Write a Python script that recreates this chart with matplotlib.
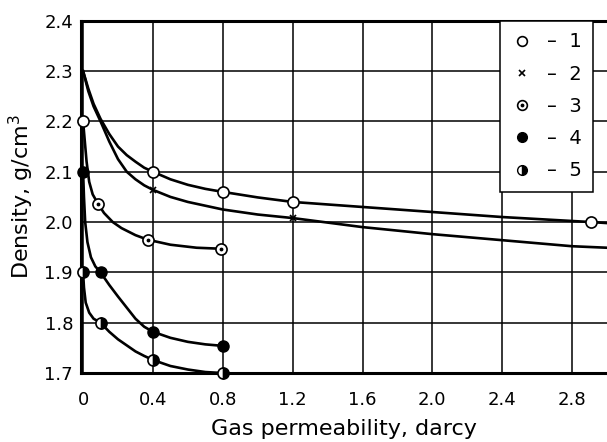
import numpy as np
import matplotlib
matplotlib.use("Agg")
import matplotlib.pyplot as plt
from matplotlib.lines import Line2D
from matplotlib.legend_handler import HandlerTuple

plt.rcParams['font.family'] = ['Liberation Sans Narrow', 'DejaVu Sans Condensed', 'DejaVu Sans']

# 沿曲线读取的点 (x: 气体渗透率 darcy, y: 密度 g/cm3)
c1_x = [0.0, 0.03, 0.06, 0.1, 0.15, 0.2, 0.25, 0.3, 0.35, 0.4, 0.5, 0.6, 0.7, 0.8,
        1.0, 1.2, 1.6, 2.0, 2.4, 2.91, 3.0]
c1_y = [2.30, 2.265, 2.235, 2.205, 2.175, 2.15, 2.133, 2.12, 2.108, 2.10, 2.085, 2.074,
        2.066, 2.06, 2.049, 2.04, 2.03, 2.02, 2.01, 2.00, 1.998]
# 数据点 (标记)
m1_x = [0.4, 0.8, 1.2, 2.91]
m1_y = [2.10, 2.06, 2.04, 2.00]

c2_x = [0.0, 0.03, 0.06, 0.1, 0.15, 0.2, 0.25, 0.3, 0.35, 0.4, 0.5, 0.6, 0.8, 1.0,
        1.2, 1.6, 2.0, 2.4, 2.8, 3.0]
c2_y = [2.30, 2.26, 2.23, 2.20, 2.16, 2.125, 2.10, 2.085, 2.073, 2.064, 2.05, 2.04,
        2.025, 2.015, 2.008, 1.99, 1.976, 1.964, 1.952, 1.949]
m2_x = [0.4, 1.2]
m2_y = [2.064, 2.008]

c3_x = [0.0, 0.01, 0.02, 0.035, 0.055, 0.086, 0.12, 0.17, 0.22, 0.3, 0.37, 0.5, 0.65, 0.79]
c3_y = [2.20, 2.16, 2.12, 2.08, 2.055, 2.036, 2.018, 2.00, 1.988, 1.974, 1.965, 1.955,
        1.949, 1.947]
m3_x = [0.086, 0.37, 0.79]
m3_y = [2.036, 1.965, 1.947]

c4_x = [0.0, 0.005, 0.012, 0.025, 0.045, 0.07, 0.1, 0.15, 0.2, 0.25, 0.3, 0.35, 0.4,
        0.5, 0.6, 0.7, 0.8]
c4_y = [2.10, 2.05, 2.00, 1.96, 1.93, 1.912, 1.90, 1.875, 1.852, 1.83, 1.808, 1.792,
        1.782, 1.77, 1.762, 1.757, 1.754]
m4_x = [0.0, 0.1, 0.4, 0.8]
m4_y = [2.10, 1.90, 1.782, 1.754]

c5_x = [0.0, 0.005, 0.015, 0.035, 0.06, 0.1, 0.15, 0.2, 0.25, 0.3, 0.35, 0.4, 0.5,
        0.6, 0.7, 0.8]
c5_y = [1.90, 1.87, 1.84, 1.82, 1.808, 1.80, 1.782, 1.767, 1.755, 1.743, 1.734, 1.726,
        1.714, 1.707, 1.702, 1.70]
m5_x = [0.0, 0.1, 0.4, 0.8]
m5_y = [1.90, 1.80, 1.726, 1.70]

# 单独的空心圆 (0, 2.2)
extra_x = [0.0]
extra_y = [2.2]

legend_labels = ['–  1', '–  2', '–  3', '–  4', '–  5']

fig = plt.figure(figsize=(6.07, 4.42), dpi=100)
ax = fig.add_axes([0.134, 0.156, 0.866, 0.797])

lw = 1.9
ms = 8
open_kw = dict(ls='none', marker='o', ms=ms, mfc='white', mec='k', mew=1.2, zorder=4,
               clip_on=False)

ax.plot(c1_x, c1_y, 'k-', lw=lw, zorder=3)
ax.plot(m1_x, m1_y, **open_kw)

ax.plot(c2_x, c2_y, 'k-', lw=lw, zorder=3)
ax.plot(m2_x, m2_y, 'kx', ms=4.5, mew=1.2, zorder=4)

ax.plot(c3_x, c3_y, 'k-', lw=lw, zorder=3)
ax.plot(m3_x, m3_y, **open_kw)
ax.plot(m3_x, m3_y, 'k.', ms=3.5, zorder=5)

ax.plot(c4_x, c4_y, 'k-', lw=lw, zorder=3)
ax.plot(m4_x, m4_y, 'ko', ms=ms, zorder=4, clip_on=False)

ax.plot(c5_x, c5_y, 'k-', lw=lw, zorder=3)
ax.plot(m5_x, m5_y, ls='none', marker='o', ms=ms, mfc='k', mfcalt='white', mec='k',
        mew=1.2, fillstyle='right', zorder=4, clip_on=False)

ax.plot(extra_x, extra_y, **open_kw)

ax.set_xlim(-0.01, 3.0)
ax.set_ylim(1.7, 2.4)
ax.set_xticks([0, 0.4, 0.8, 1.2, 1.6, 2.0, 2.4, 2.8])
ax.set_xticklabels(['0', '0.4', '0.8', '1.2', '1.6', '2.0', '2.4', '2.8'])
ax.set_yticks([1.7, 1.8, 1.9, 2.0, 2.1, 2.2, 2.3, 2.4])
ax.tick_params(length=0, labelsize=13)
ax.tick_params(axis='x', pad=13)
ax.tick_params(axis='y', pad=6)
ax.grid(True, color='k', lw=1.1)
ax.set_axisbelow(True)
for s in ['left', 'bottom', 'top']:
    ax.spines[s].set_linewidth(2.2)
ax.spines['right'].set_visible(False)

ax.set_xlabel('Gas permeability, darcy', fontsize=16, labelpad=7)
ax.set_ylabel('Density, g/cm$^3$', fontsize=16, labelpad=6)

# 图例
h1 = Line2D([], [], ls='none', marker='o', ms=7, mfc='white', mec='k', mew=1.2)
h2 = Line2D([], [], ls='none', marker='x', ms=4.5, mec='k', mew=1.2)
h3a = Line2D([], [], ls='none', marker='o', ms=7, mfc='white', mec='k', mew=1.2)
h3b = Line2D([], [], ls='none', marker='.', ms=3.5, color='k')
h4 = Line2D([], [], ls='none', marker='o', ms=7, mfc='k', mec='k')
h5 = Line2D([], [], ls='none', marker='o', ms=7, mfc='k', mfcalt='white', mec='k',
            fillstyle='right')
leg = ax.legend([h1, h2, (h3a, h3b), h4, h5], legend_labels,
                handler_map={tuple: HandlerTuple(ndivide=1, pad=0)},
                loc='upper left', bbox_to_anchor=(0.797, 1.0), borderaxespad=0,
                fancybox=False, edgecolor='k', framealpha=1, fontsize=14,
                handlelength=1.0, handletextpad=0.8, labelspacing=0.68,
                borderpad=0.6)
leg.get_frame().set_linewidth(1.1)
leg.set_zorder(6)

fig.savefig('out.png', dpi=100)
